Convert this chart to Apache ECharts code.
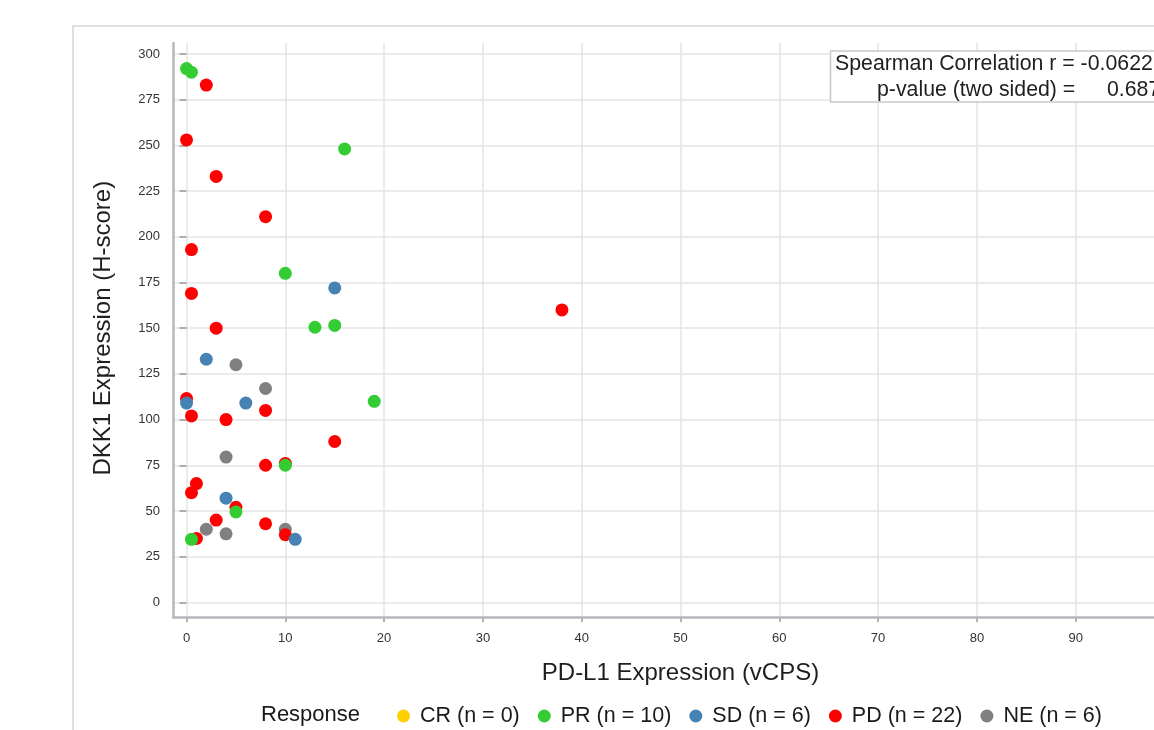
<!DOCTYPE html>
<html>
<head>
<meta charset="utf-8">
<title>DKK1 vs PD-L1</title>
<script src="https://cdn.jsdelivr.net/npm/echarts@6/dist/echarts.min.js"></script>
<style>
	html, body { margin: 0; padding: 0; background: #ffffff; }
	#chart { width: 1154px; height: 730px; }
</style>
</head>
<body>
<div id="chart"></div>
<script>
// 数据 [PD-L1, DKK1]
var crPoints = [];
var prPoints = [[0, 292], [0.5, 290], [16, 248], [10, 180], [13, 150.5], [15, 151.5], [19, 110], [10, 75], [5, 49.5], [0.5, 34.5]];
var sdPoints = [[15, 172], [2, 133], [0, 109], [6, 109], [4, 57], [11, 34.5]];
var pdPoints = [[2, 283], [0, 253], [3, 233], [8, 211], [0.5, 193], [0.5, 169], [3, 150], [0, 111.5], [0.5, 102], [4, 100], [8, 105],
	[15, 88], [8, 75], [10, 76], [1, 65], [0.5, 60], [5, 52], [3, 45], [8, 43], [10, 37], [1, 35], [38, 160]];
var nePoints = [[5, 130], [8, 117], [4, 79.5], [2, 40], [4, 37.5], [10, 40]];

var legendNames = ['CR (n = 0)', 'PR (n = 10)', 'SD (n = 6)', 'PD (n = 22)', 'NE (n = 6)'];
var legendColors = ['#ffd000', '#33cc33', '#4682b4', '#ff0000', '#808080'];

var xTicks = { min: 0, max: 100, interval: 10 };
var yTicks = { min: 0, max: 300, interval: 25 };

var statLines = ['Spearman Correlation r = -0.0622', 'p-value (two sided) =', '0.687'];

var FONT = 'Liberation Sans';
var AXIS_COLOR = '#b5b8bc';
var GRID_COLOR = '#e4e4e4';

var chart = echarts.init(document.getElementById('chart'));

function scatterSeries(name, data, color) {
	return {
		name: name,
		type: 'scatter',
		xAxisIndex: 2,
		yAxisIndex: 2,
		data: data,
		symbol: 'circle',
		symbolSize: 13,
		itemStyle: { color: color, opacity: 1 },
		emphasis: { disabled: true },
	};
}

// 标注文字
function statText(text, x, y) {
	return { type: 'text', x: x, y: y, z: 11, silent: true,
		style: { text: text, fontFamily: FONT, fontSize: 21.3, fill: '#1f1f1f', align: 'left', verticalAlign: 'middle' } };
}

var option = {
	backgroundColor: '#ffffff',
	animation: false,
	grid: [
		// x 刻度和竖线
		{ left: 186.5, top: 43, width: 988, height: 574, outerBoundsMode: 'none' },
		// y 刻度和横线
		{ left: 173, top: 54, width: 1015, height: 548.4, outerBoundsMode: 'none' },
		// 数据和轴线
		{ left: 173, top: 43, width: 1015, height: 574, outerBoundsMode: 'none' },
	],
	xAxis: [
		{
			gridIndex: 0, type: 'value', min: xTicks.min, max: xTicks.max, interval: xTicks.interval,
			name: 'PD-L1 Expression (vCPS)', nameLocation: 'middle', nameGap: 44,
			nameTextStyle: { fontFamily: FONT, fontSize: 24, color: '#1f1f1f' },
			axisLine: { show: false },
			axisTick: { show: true, length: 5, lineStyle: { color: '#999999', width: 1.5 } },
			axisLabel: { margin: 15, fontFamily: FONT, fontSize: 13, color: '#333333' },
			splitLine: { show: true, lineStyle: { color: GRID_COLOR, width: 1.5 } },
		},
		{ gridIndex: 1, type: 'value', min: -1.37, max: 101.37, show: false },
		{
			gridIndex: 2, type: 'value', min: -1.37, max: 101.37, z: 3,
			axisLine: { show: true, onZero: false, lineStyle: { color: AXIS_COLOR, width: 2.5 } },
			axisTick: { show: false }, axisLabel: { show: false }, splitLine: { show: false },
		},
	],
	yAxis: [
		{ gridIndex: 0, type: 'value', min: 0, max: 1, show: false },
		{
			gridIndex: 1, type: 'value', min: yTicks.min, max: yTicks.max, interval: yTicks.interval,
			name: 'DKK1 Expression (H-score)', nameLocation: 'middle', nameGap: 58,
			nameTextStyle: { fontFamily: FONT, fontSize: 24, color: '#1f1f1f' },
			axisLine: { show: false },
			axisTick: { show: true, length: 7, lineStyle: { color: '#999999', width: 1.5 } },
			axisLabel: { margin: 13, fontFamily: FONT, fontSize: 13, color: '#333333' },
			splitLine: { show: true, lineStyle: { color: GRID_COLOR, width: 1.5 } },
		},
		{
			gridIndex: 2, type: 'value', min: -8, max: 306, z: 3,
			axisLine: { show: true, onZero: false, lineStyle: { color: AXIS_COLOR, width: 2.5 } },
			axisTick: { show: false }, axisLabel: { show: false }, splitLine: { show: false },
		},
	],
	legend: {
		data: legendNames,
		left: 397,
		top: 705,
		padding: 0,
		itemWidth: 23,
		itemHeight: 13,
		itemGap: 18,
		icon: 'circle',
		selectedMode: false,
		textStyle: { fontFamily: FONT, fontSize: 21.5, color: '#1a1a1a' },
	},
	graphic: [
		// 外框
		{ type: 'rect', z: 0, silent: true,
			shape: { x: 73, y: 26, width: 1200, height: 800 },
			style: { fill: 'none', stroke: '#d6d6d6', lineWidth: 1.5 } },
		// 相关性标注
		{ type: 'rect', z: 10, silent: true,
			shape: { x: 830.5, y: 51, width: 400, height: 51 },
			style: { fill: '#ffffff', stroke: '#c8c8c8', lineWidth: 1.5 } },
		statText(statLines[0], 835, 64),
		statText(statLines[1], 877, 90),
		statText(statLines[2], 1107, 90),
		// 图例标题
		{ type: 'text', x: 261, y: 715, z: 11, silent: true,
			style: { text: 'Response', fontFamily: FONT, fontSize: 22, fill: '#1a1a1a', align: 'left', verticalAlign: 'middle' } },
	],
	series: [
		scatterSeries(legendNames[0], crPoints, legendColors[0]),
		scatterSeries(legendNames[4], nePoints, legendColors[4]),
		scatterSeries(legendNames[3], pdPoints, legendColors[3]),
		scatterSeries(legendNames[1], prPoints, legendColors[1]),
		scatterSeries(legendNames[2], sdPoints, legendColors[2]),
	],
};

chart.setOption(option);
</script>
</body>
</html>
